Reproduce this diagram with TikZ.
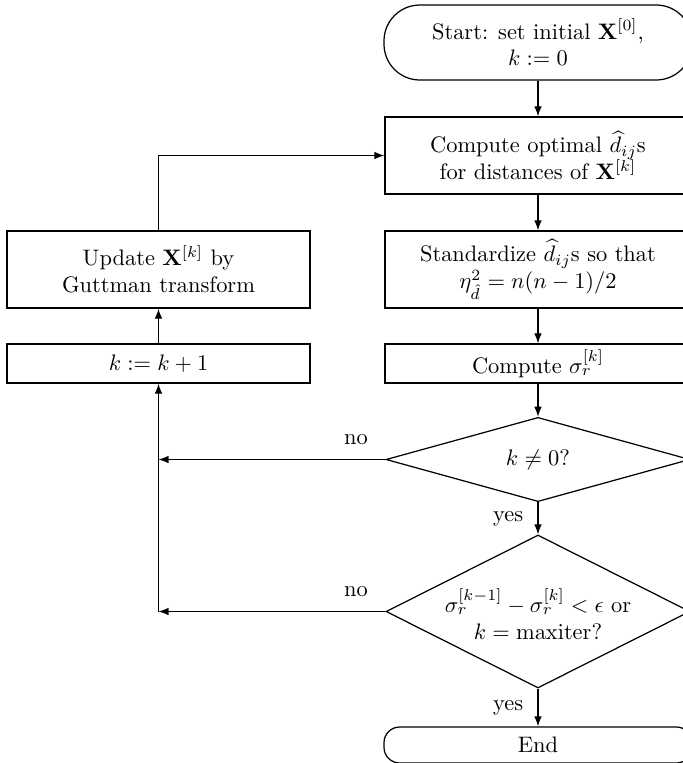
\documentclass[tikz,border=0pt]{standalone}
\usetikzlibrary{shapes.geometric,arrows.meta}
\newdimen\px \px=0.446pt
\begin{document}
\begin{tikzpicture}[x=0.446pt,y=-0.446pt,
  line width=0.55pt,
  box/.style={draw, align=center, inner sep=0pt, minimum width=306\px, minimum height=77\px},
  lbox/.style={draw, align=center, inner sep=0pt, minimum width=303\px, minimum height=77\px},
  term/.style={draw, align=center, inner sep=0pt, minimum width=308\px},
  dia/.style={draw, diamond, inner sep=0pt, minimum width=304\px},
  arr/.style={-{Latex[length=4.5pt,width=3.4pt]}}]
\useasboundingbox (0,0) rectangle (682,763);
% right column
\node[term, rounded corners=16pt, minimum height=75\px] (start) at (538,42.5) {Start: set initial $\mathbf{X}^{[0]}$,\\ $k := 0$};
\node[box] (compute) at (538,155.5) {Compute optimal $\widehat{d}_{ij}$s\\ for distances of $\mathbf{X}^{[k]}$};
\node[box] (std) at (538,269.5) {Standardize $\widehat{d}_{ij}$s so that\\ $\eta^2_{\hat{d}} = n(n-1)/2$};
\node[box, minimum height=39\px] (sigma) at (538,363.5) {Compute $\sigma_r^{[k]}$};
\node[dia, minimum height=75\px] (d1) at (538,459.5) {$k \neq 0$?};
\node[dia, minimum height=153\px] (d2) at (538,611.5) {};
\node[align=center, inner sep=0pt] (d2t) at (538,614) {$\sigma_r^{[k-1]} - \sigma_r^{[k]} < \epsilon$ or\\ $k = \mathrm{maxiter}$?};
\node[term, rounded corners=7pt, minimum height=36\px] (end) at (538,745) {End};
% left column
\node[lbox] (update) at (158.5,269.5) {Update $\mathbf{X}^{[k]}$ by\\ Guttman transform};
\node[lbox, minimum height=39\px] (kinc) at (158.5,363.5) {$k := k+1$};
% connectors
\draw[arr] (start) -- (compute);
\draw[arr] (compute) -- (std);
\draw[arr] (std) -- (sigma);
\draw[arr] (sigma) -- (d1);
\draw[arr] (d1) -- node[left, xshift=-3pt] {yes} (d2);
\draw[arr] (d2) -- node[left, xshift=-3pt] {yes} (end);
\coordinate (j1) at (d1.west -| kinc.south);
\coordinate (j2) at (d2.west -| kinc.south);
\draw[arr] (d1.west) -- node[above, pos=0.13, yshift=3pt] {no} (j1);
\draw[arr] (d2.west) -- node[above, pos=0.13, yshift=3pt] {no} (j2);
\draw[arr] (j2) -- (kinc.south);
\draw[arr] (kinc) -- (update);
\draw[arr] (update.north) |- (compute.west);
\end{tikzpicture}
\end{document}
